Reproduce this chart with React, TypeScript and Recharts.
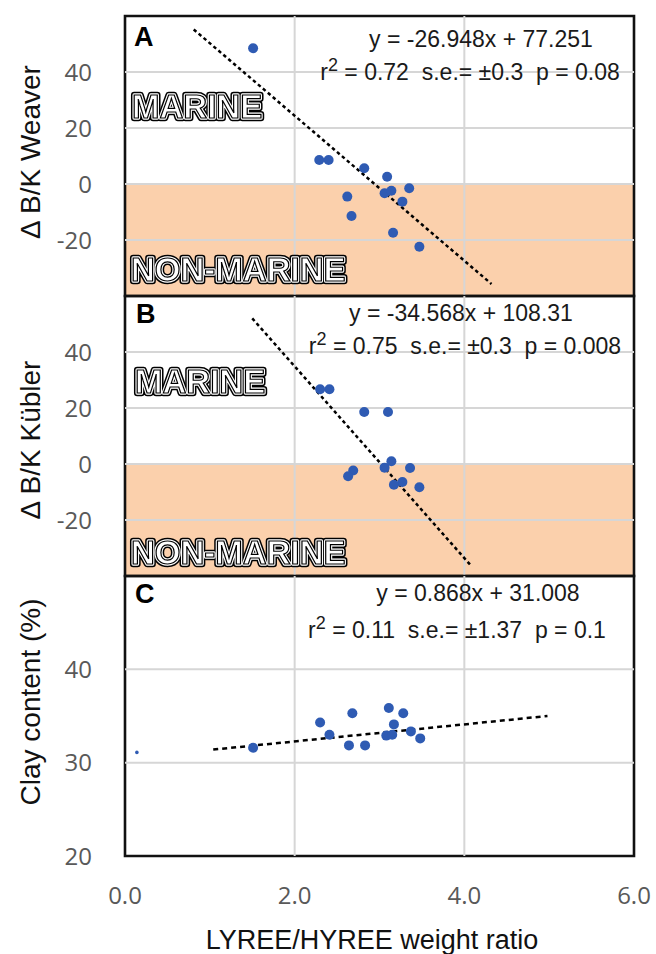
import React from "react";
import {
  ScatterChart,
  Scatter,
  XAxis,
  YAxis,
  ReferenceArea,
  ReferenceLine,
} from "recharts";

// x axis (shared by all three panels)
const xTicks = [0, 2, 4, 6];
const deltaTicks = [-20, 0, 20, 40];
const clayTicks = [20, 30, 40];

// Panel A: delta B/K Weaver
const weaverX = [1.51, 2.29, 2.4, 2.82, 3.09, 2.62, 2.67, 3.06, 3.14, 3.35, 3.27, 3.16, 3.47];
const weaverY = [48.5, 8.6, 8.6, 5.6, 2.6, -4.5, -11.4, -3.3, -2.4, -1.5, -6.3, -17.4, -22.4];
const weaverTrendX = [0.81, 4.32];
const weaverTrendY = [55.2, -35.7];

// Panel B: delta B/K Kubler
const kublerX = [2.3, 2.41, 2.82, 3.1, 2.69, 2.63, 3.06, 3.14, 3.36, 3.27, 3.17, 3.47];
const kublerY = [26.7, 26.7, 18.6, 18.6, -2.3, -4.4, -1.3, 1.0, -1.4, -6.4, -7.4, -8.3];
const kublerTrendX = [1.5, 4.07];
const kublerTrendY = [52, -36];

// Panel C: clay content
const clayX = [1.51, 2.3, 2.41, 2.68, 2.64, 2.83, 3.11, 3.28, 3.17, 3.08, 3.15, 3.37, 3.48];
const clayY = [31.6, 34.3, 33.0, 35.3, 31.85, 31.85, 35.85, 35.3, 34.1, 32.9, 33.0, 33.35, 32.6];
const clayStrayX = [0.14];
const clayStrayY = [31.1];
const clayTrendX = [1.04, 4.98];
const clayTrendY = [31.4, 35.0];

const zip = (xs: number[], ys: number[]) => xs.map((x, i) => ({ x, y: ys[i] }));

const DOT = "#2f5bb3";
const GRID = "#d6d6d6";
const SHADE = "#fbd0ac";
const TICK_FONT = "'Open Sans', 'Noto Sans', sans-serif";
const ARIAL = "'Liberation Sans', Arial, sans-serif";
const SP = "\u00A0\u00A0";

const Dot = (props: any) => <circle cx={props.cx} cy={props.cy} r={5} fill={DOT} />;
const SmallDot = (props: any) => <circle cx={props.cx} cy={props.cy} r={1.8} fill={DOT} />;

const YTick = (props: any) => (
  <text
    x={92}
    y={props.y}
    dy={8.5}
    textAnchor="end"
    fontFamily={TICK_FONT}
    fontSize={24}
    fill="#595959"
  >
    {props.payload.value}
  </text>
);

const XTick = (props: any) => (
  <text
    x={props.x}
    y={props.y}
    dy={40}
    textAnchor="middle"
    fontFamily={TICK_FONT}
    fontSize={24}
    fill="#595959"
  >
    {Number(props.payload.value).toFixed(1)}
  </text>
);

interface PanelProps {
  top: number;
  height: number;
  points: { x: number; y: number }[];
  trend: { x: number; y: number }[];
  dash: string;
  domain: [number, number];
  ticks: number[];
  shaded?: boolean;
  showX?: boolean;
  extra?: { x: number; y: number }[];
}

const Panel = ({ top, height, points, trend, dash, domain, ticks, shaded, showX, extra }: PanelProps) => (
  <div style={{ position: "absolute", left: 0, top }}>
    <ScatterChart width={656} height={height} margin={{ top: 16, right: 22, bottom: showX ? 0 : 4, left: 0 }}>
      <XAxis
        type="number"
        dataKey="x"
        domain={[0, 6]}
        ticks={xTicks}
        interval={0}
        hide={!showX}
        height={showX ? 98 : 0}
        axisLine={false}
        tickLine={false}
        tick={<XTick />}
      />
      <YAxis
        type="number"
        dataKey="y"
        domain={domain}
        ticks={ticks}
        interval={0}
        width={125}
        axisLine={false}
        tickLine={false}
        tick={<YTick />}
      />
      {shaded && (
        <ReferenceArea x1={0} x2={6} y1={domain[0]} y2={0} fill={SHADE} fillOpacity={1} stroke="none" />
      )}
      {xTicks.slice(1, 3).map((t) => (
        <ReferenceLine key={"x" + t} x={t} stroke={GRID} strokeWidth={2} />
      ))}
      {ticks
        .filter((t) => t > domain[0] && t < domain[1])
        .map((t) => (
          <ReferenceLine key={"y" + t} y={t} stroke={GRID} strokeWidth={2} />
        ))}
      <Scatter data={points} shape={<Dot />} isAnimationActive={false} />
      {extra && <Scatter data={extra} shape={<SmallDot />} isAnimationActive={false} />}
      <ReferenceLine
        segment={trend}
        stroke="#000"
        strokeWidth={2.5}
        strokeDasharray={dash}
        ifOverflow="visible"
      />
      <ReferenceArea
        x1={0}
        x2={6}
        y1={domain[0]}
        y2={domain[1]}
        fill="none"
        stroke="#111"
        strokeWidth={2.6}
        ifOverflow="visible"
      />
    </ScatterChart>
  </div>
);

// white letters with a doubled black outline
const OutlineText = ({ x, y, children }: { x: number; y: number; children: string }) => (
  <g fontFamily={ARIAL} fontWeight="bold" fontSize={33} filter="url(#flat)">
    <text x={x} y={y} fill="none" stroke="#000" strokeWidth={6.5} strokeLinejoin="round">
      {children}
    </text>
    <text x={x} y={y} fill="none" stroke="#fff" strokeWidth={3.4} strokeLinejoin="round">
      {children}
    </text>
    <text x={x} y={y} fill="#fff" stroke="#000" strokeWidth={1.2}>
      {children}
    </text>
  </g>
);

const Stats = ({ cx1, cx2, y1, y2, eq, r2, se, p }: any) => (
  <g fontFamily={ARIAL} fontSize={23} fill="#1a1a1a">
    <text x={cx1} y={y1} textAnchor="middle">
      {eq}
    </text>
    <text x={cx2} y={y2} textAnchor="middle">
      r
      <tspan dy={-9} fontSize={18}>
        2
      </tspan>
      <tspan dy={9}>{` = ${r2}${SP}s.e.= ±${se}${SP}p = ${p}`}</tspan>
    </text>
  </g>
);

const YTitle = ({ cy, children }: { cy: number; children: string }) => (
  <text
    x={40}
    y={cy}
    transform={`rotate(-90, 40, ${cy})`}
    textAnchor="middle"
    fontFamily={ARIAL}
    fontSize={28}
    fill="#111"
  >
    {children}
  </text>
);

export default function App() {
  return (
    <div style={{ position: "absolute", left: 0, top: 0, width: 656, height: 954, background: "#fff" }}>
      <Panel
        top={0}
        height={300}
        points={zip(weaverX, weaverY)}
        trend={zip(weaverTrendX, weaverTrendY)}
        dash="3.5 3"
        domain={[-40, 60]}
        ticks={deltaTicks}
        shaded
      />
      <Panel
        top={280}
        height={300}
        points={zip(kublerX, kublerY)}
        trend={zip(kublerTrendX, kublerTrendY)}
        dash="3.5 3"
        domain={[-40, 60]}
        ticks={deltaTicks}
        shaded
      />
      <Panel
        top={560}
        height={394}
        points={zip(clayX, clayY)}
        extra={zip(clayStrayX, clayStrayY)}
        trend={zip(clayTrendX, clayTrendY)}
        dash="5 4"
        domain={[20, 50]}
        ticks={clayTicks}
        showX
      />
      <svg
        width={656}
        height={954}
        style={{ position: "absolute", left: 0, top: 0, pointerEvents: "none" }}
      >
        <defs>
          <filter id="flat" x="-5%" y="-20%" width="110%" height="140%">
            <feOffset dx={0} dy={0} />
          </filter>
        </defs>
        <g fontFamily={ARIAL} fontWeight="bold" fontSize={27} fill="#000">
          <text x={134} y={46}>A</text>
          <text x={136} y={323}>B</text>
          <text x={135} y={603}>C</text>
        </g>
        <OutlineText x={132} y={118}>MARINE</OutlineText>
        <OutlineText x={131} y={281}>NON-MARINE</OutlineText>
        <OutlineText x={135} y={393}>MARINE</OutlineText>
        <OutlineText x={131} y={564}>NON-MARINE</OutlineText>
        <Stats cx1={481} cx2={470} y1={47} y2={80} eq="y = -26.948x + 77.251" r2="0.72" se="0.3" p="0.08" />
        <Stats cx1={461} cx2={465} y1={321} y2={354} eq="y = -34.568x + 108.31" r2="0.75" se="0.3" p="0.008" />
        <Stats cx1={478} cx2={457} y1={601} y2={638} eq="y = 0.868x + 31.008" r2="0.11" se="1.37" p="0.1" />
        <YTitle cy={152}>Δ B/K Weaver</YTitle>
        <YTitle cy={440}>Δ B/K Kübler</YTitle>
        <YTitle cy={702}>Clay content (%)</YTitle>
        <text x={372} y={949} textAnchor="middle" fontFamily={ARIAL} fontSize={27} fill="#111">
          LYREE/HYREE weight ratio
        </text>
      </svg>
    </div>
  );
}
